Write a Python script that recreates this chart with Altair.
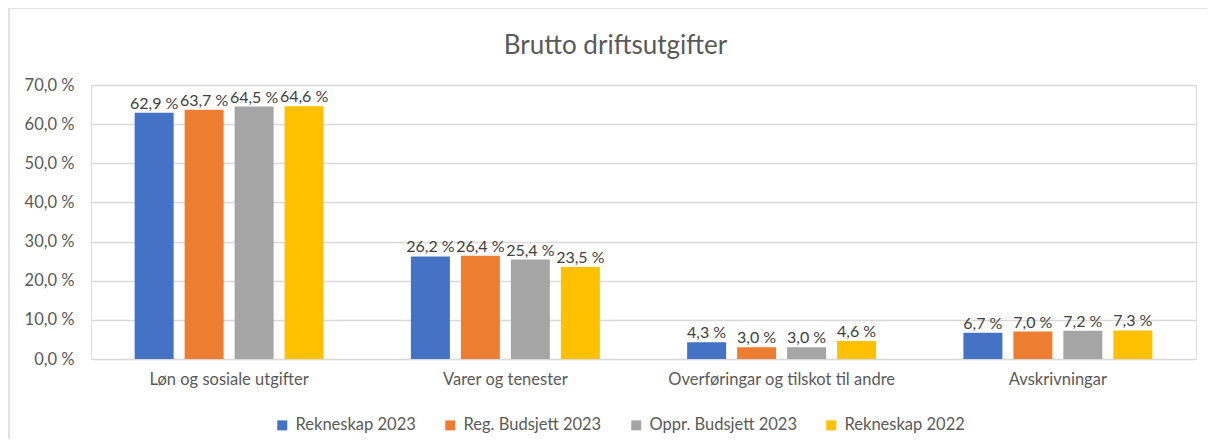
import altair as alt
import pandas as pd

categories = ["Løn og sosiale utgifter", "Varer og tenester",
              "Overføringar og tilskot til andre", "Avskrivningar"]
series = ["Rekneskap 2023", "Reg. Budsjett 2023", "Oppr. Budsjett 2023", "Rekneskap 2022"]
rekneskap_2023 = [62.9, 26.2, 4.3, 6.7]
reg_budsjett_2023 = [63.7, 26.4, 3.0, 7.0]
oppr_budsjett_2023 = [64.5, 25.4, 3.0, 7.2]
rekneskap_2022 = [64.6, 23.5, 4.6, 7.3]
y_ticks = [0, 10, 20, 30, 40, 50, 60, 70]
colors = ["#4472C4", "#ED7D31", "#A5A5A5", "#FFC000"]

rows = []
for s, vals in zip(series, [rekneskap_2023, reg_budsjett_2023, oppr_budsjett_2023, rekneskap_2022]):
    for c, v in zip(categories, vals):
        rows.append({"Kategori": c, "Serie": s, "Verdi": v})
df = pd.DataFrame(rows)

FONT = "Lato"
TXT = "#595959"
FS = 16.5
W, H = 1105, 274

base = alt.Chart(df).encode(
    x=alt.X("Kategori:N", sort=categories,
            scale=alt.Scale(paddingInner=0.316, paddingOuter=0.158),
            axis=alt.Axis(title=None, labelAngle=0, domain=False, ticks=False,
                          labelPadding=12, labelFontSize=FS, labelColor=TXT,
                          labelFont=FONT, labelLimit=400)),
    xOffset=alt.XOffset("Serie:N", sort=series,
                        scale=alt.Scale(paddingInner=0.22, paddingOuter=0)),
    y=alt.Y("Verdi:Q", scale=alt.Scale(domain=[0, 70], nice=False),
            axis=alt.Axis(title=None, values=y_ticks,
                          labelExpr="replace(format(datum.value, '.1f'), '.', ',') + ' %'",
                          domain=False, ticks=False, labelPadding=17,
                          labelFontSize=FS, labelColor=TXT, labelFont=FONT,
                          gridColor="#D9D9D9", gridWidth=1.3)),
)

bars = base.mark_bar().encode(
    color=alt.Color("Serie:N", sort=series,
                    scale=alt.Scale(domain=series, range=colors),
                    legend=alt.Legend(title=None, orient="none", direction="horizontal",
                                      legendX=183, legendY=332, columns=4,
                                      symbolType="square", symbolSize=100,
                                      symbolStrokeWidth=0, labelOffset=5,
                                      columnPadding=26, padding=0,
                                      labelFontSize=FS, labelColor=TXT, labelFont=FONT)),
)

labels = base.mark_text(baseline="alphabetic", dy=-4, fontSize=16, font=FONT,
                        color="#404040").encode(
    text=alt.Text("Etikett:N"),
).transform_calculate(
    Etikett="replace(format(datum.Verdi, '.1f'), '.', ',') + ' %'"
)

frame = alt.Chart(pd.DataFrame({"a": [0]})).mark_rect(
    fill=None, stroke="#D9D9D9", strokeWidth=1.5, clip=False
).encode(x=alt.value(-82), x2=alt.value(W + 40), y=alt.value(-77), y2=alt.value(H + 120))

chart = alt.layer(frame, bars, labels).properties(
    width=W, height=H,
    title=alt.Title("Brutto driftsutgifter", fontSize=26, font=FONT, color=TXT,
                    fontWeight="normal", anchor="middle", dx=-28, offset=-52),
    autosize=alt.AutoSizeParams(type="none"),
    padding={"left": 83, "top": 77, "right": 11, "bottom": 80},
).configure_view(strokeWidth=0).configure(background="white")

chart.save("out.html", embed_options={"renderer": "svg", "actions": False})
